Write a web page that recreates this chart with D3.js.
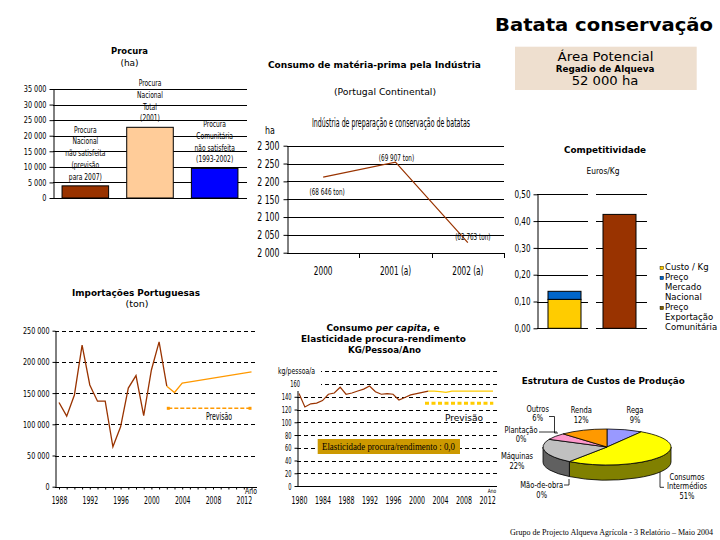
<!DOCTYPE html>
<html><head><meta charset="utf-8">
<script src="https://cdn.jsdelivr.net/npm/d3@7"></script>
<style>body{margin:0;background:#fff}svg{display:block}</style>
</head><body><svg id="c" width="720" height="540"></svg>
<script>
// ---------------- DATA ----------------
const procuraCategories = ["Nacional não satisfeita", "Nacional Total", "Comunitária não satisfeita"];
const procuraLabelLines = [
  ["Procura", "Nacional", "não satisfeita", "(previsão", "para 2007)"],
  ["Procura", "Nacional", "Total", "(2001)"],
  ["Procura", "Comunitária", "não satisfeita", "(1993-2002)"]
];
const procuraValues = [3900, 22700, 9500];
const procuraColors = ["#993300", "#FFCC99", "#0000FF"];
const procuraTicks = [0, 5000, 10000, 15000, 20000, 25000, 30000, 35000];

const consumoCategories = ["2000", "2001 (a)", "2002 (a)"];
const consumoValues = [2212, 2254, 2028];
const consumoTon = ["(68 646 ton)", "(69 907 ton)", "(62 763 ton)"];
const consumoTicks = [2000, 2050, 2100, 2150, 2200, 2250, 2300];

const compCategories = ["Mercado", "Exportação"];
const compCusto = [0.108, 0];
const compPrecoNacional = [0.030, 0];
const compPrecoExport = [0, 0.425];
const compLegend = [["Custo / Kg"], ["Preço", "Mercado", "Nacional"], ["Preço", "Exportação", "Comunitária"]];
const compColors = ["#FFCC00", "#0066CC", "#993300"];
const compLegendColors = ["#FFCC00", "#0066CC", "#7F6000"];
const compTicks = [0, 0.1, 0.2, 0.3, 0.4, 0.5];

const impYears = [1988,1989,1990,1991,1992,1993,1994,1995,1996,1997,1998,1999,2000,2001,2002];
const impValues = [135000,113000,147000,227000,163000,137000,137000,64000,96000,158000,178000,114000,187000,232000,161000];
const impForecastYears = [2002,2003,2004,2005,2006,2007,2008,2009,2010,2011,2012,2013];
const impForecast = [161000,151000,166000,168000,170000,172000,174000,176000,178000,180000,182000,184000];
const impTicks = [0, 50000, 100000, 150000, 200000, 250000];
const impXTicks = [1988, 1992, 1996, 2000, 2004, 2008, 2012];

const pcYears = [1980,1981,1982,1983,1984,1985,1986,1987,1988,1989,1990,1991,1992,1993,1994,1995,1996,1997,1998,1999,2000,2001,2002];
const pcValues = [145,124,129,130,134,144,146,155,144,146,149,152,157,148,144,145,144,135,139,143,145,147,149];
const pcForecastYears = [2002,2003,2004,2005,2006,2007,2008,2009,2010,2011,2012,2013];
const pcForecast = [149,149,148,147,149,149,149,149,149,149,149,149];
const pcTicks = [0, 20, 40, 60, 80, 100, 120, 140, 160];
const pcXTicks = [1980, 1984, 1988, 1992, 1996, 2000, 2004, 2008, 2012];
const elasticidade = "0,0";

const pieLabels = ["Rega", "Consumos Intermédios", "Mão-de-obra", "Máquinas", "Plantação", "Outros", "Renda"];
const pieValues = [9, 51, 0, 22, 0, 6, 12];
const pieColors = ["#9999FF", "#FFFF00", "#993366", "#C0C0C0", "#FFFFCC", "#FF99CC", "#FF9900"];
const pieSideColors = ["#5C5C99", "#808000", "#5C1F3D", "#606060", "#99997A", "#995C7A", "#995C00"];

// ---------------- HELPERS ----------------
const svg = d3.select("#c");
svg.append("rect").attr("width", 720).attr("height", 540).attr("fill", "#fff");
const NARROW = "'Liberation Sans Narrow','DejaVu Sans Condensed','Arial Narrow',sans-serif";
const SANS = "'DejaVu Sans',Verdana,sans-serif";
const SERIF = "'Liberation Serif','Times New Roman',serif";
const fmtSp = d => d3.format(",")(d).replace(/,/g, " ");

function narrowify(sel, f) {
  sel.each(function () {
    const L = this.getComputedTextLength();
    if (L > 0) d3.select(this).attr("textLength", L * f).attr("lengthAdjust", "spacingAndGlyphs");
  });
}
function txt(g, x, y, s, o = {}) {
  const t = g.append("text").attr("x", x).attr("y", y).text(s)
    .attr("font-family", o.family || SANS).attr("font-size", o.size || 9)
    .attr("text-anchor", o.anchor || "middle").attr("dominant-baseline", "central")
    .attr("fill", o.fill || "#000");
  if (o.bold) t.attr("font-weight", "bold");
  if (o.italic) t.attr("font-style", "italic");
  if (o.len) t.attr("textLength", o.len).attr("lengthAdjust", "spacingAndGlyphs");
  else if (o.nf) narrowify(t, o.nf);
  return t;
}
function styleAxis(g, family, size, nf) {
  g.attr("font-family", family).attr("font-size", size);
  g.selectAll("text").attr("fill", "#000");
  g.selectAll("line").attr("stroke", "#000");
  g.select(".domain").attr("stroke", "#000");
  if (nf) narrowify(g.selectAll("text"), nf);
}

// ---------------- MAIN TITLE ----------------
txt(svg, 604, 25, "Batata conservação", {bold: true, size: 17.5, len: 218});

// ---------------- PANEL 1: PROCURA ----------------
{
  const g = svg.append("g");
  txt(g, 129.5, 50.7, "Procura", {bold: true, size: 8.5, len: 37});
  txt(g, 129.5, 62.5, "(ha)", {size: 9});
  const y = d3.scaleLinear().domain([0, 35000]).range([198, 89]);
  const x = d3.scaleBand().domain(procuraCategories).range([53, 247]).paddingInner(0.28).paddingOuter(0.14);
  g.selectAll("line.grid").data(procuraTicks).join("line").attr("class", "grid")
    .attr("x1", 53).attr("x2", 247).attr("y1", d => Math.round(y(d)) + 0.5).attr("y2", d => Math.round(y(d)) + 0.5)
    .attr("stroke", "#000");
  const ax = g.append("g").attr("transform", "translate(53.5,0)")
    .call(d3.axisLeft(y).tickValues(procuraTicks).tickFormat(fmtSp).tickSize(4).tickSizeOuter(0).tickPadding(3));
  styleAxis(ax, NARROW, 8.5, 0.85);
  g.selectAll("rect.bar").data(procuraValues).join("rect").attr("class", "bar")
    .attr("x", (d, i) => x(procuraCategories[i])).attr("width", x.bandwidth())
    .attr("y", d => y(d)).attr("height", d => y(0) - y(d))
    .attr("fill", (d, i) => procuraColors[i]).attr("stroke", "#000").attr("stroke-width", 1);
  procuraLabelLines.forEach((lines, i) => {
    const cx = x(procuraCategories[i]) + x.bandwidth() / 2;
    const last = y(procuraValues[i]) - 9;
    lines.forEach((l, k) => txt(g, cx, last - (lines.length - 1 - k) * 11.8, l, {family: NARROW, size: 8.5, nf: 0.78}));
  });
}

// ---------------- PANEL 2: CONSUMO MATÉRIA-PRIMA ----------------
{
  const g = svg.append("g");
  txt(g, 374.4, 65, "Consumo de matéria-prima pela Indústria", {bold: true, size: 8.5, len: 213});
  txt(g, 385, 91.7, "(Portugal Continental)", {size: 9, len: 102});
  txt(g, 391, 122.7, "Indústria de preparação e conservação de batatas", {family: NARROW, size: 11.5, len: 158});
  txt(g, 270, 130, "ha", {family: NARROW, size: 11, nf: 0.8});
  const y = d3.scaleLinear().domain([2000, 2300]).range([252.7, 145.7]);
  const x = d3.scaleBand().domain(consumoCategories).range([287, 504]);
  g.selectAll("line.grid").data(consumoTicks).join("line").attr("class", "grid")
    .attr("x1", 287).attr("x2", 504).attr("y1", d => Math.round(y(d)) + 0.5).attr("y2", d => Math.round(y(d)) + 0.5)
    .attr("stroke", "#000");
  const ax = g.append("g").attr("transform", "translate(287.5,0)")
    .call(d3.axisLeft(y).tickValues(consumoTicks).tickFormat(fmtSp).tickSize(4).tickSizeOuter(0).tickPadding(4));
  styleAxis(ax, NARROW, 12, 0.72);
  const bx = consumoCategories.map(c => x(c) + x.bandwidth());
  g.selectAll("line.xt").data(bx).join("line").attr("class", "xt")
    .attr("x1", d => Math.round(d) + 0.5).attr("x2", d => Math.round(d) + 0.5)
    .attr("y1", Math.round(y(2000))).attr("y2", Math.round(y(2000)) + 5).attr("stroke", "#000");
  consumoCategories.forEach(c => txt(g, x(c) + x.bandwidth() / 2, 270.7, c, {family: NARROW, size: 12, nf: 0.68}));
  const line = d3.line().x((d, i) => x(consumoCategories[i]) + x.bandwidth() / 2).y(d => y(d));
  g.append("path").attr("d", line(consumoValues)).attr("fill", "none").attr("stroke", "#993300").attr("stroke-width", 1.2);
  const annOffsets = [[4, 14.6], [1, -4], [5, -5.4]];
  consumoTon.forEach((s, i) => {
    txt(g, x(consumoCategories[i]) + x.bandwidth() / 2 + annOffsets[i][0], y(consumoValues[i]) + annOffsets[i][1], s,
      {family: NARROW, size: 9, nf: 0.7});
  });
}

// ---------------- PANEL 3: ÁREA POTENCIAL + COMPETITIVIDADE ----------------
{
  const g = svg.append("g");
  g.append("rect").attr("x", 515).attr("y", 46.7).attr("width", 181.7).attr("height", 43.3).attr("fill", "#EEDFCF");
  txt(g, 605.5, 56, "Área Potencial", {size: 13, len: 96});
  txt(g, 605, 69.3, "Regadio de Alqueva", {bold: true, size: 8.5, len: 98.7});
  txt(g, 605, 80.7, "52 000 ha", {size: 13, len: 66.7});

  txt(g, 605, 150, "Competitividade", {bold: true, size: 8.5, len: 82});
  txt(g, 603, 171, "Euros/Kg", {family: NARROW, size: 8, len: 33});
  const y = d3.scaleLinear().domain([0, 0.5]).range([328.3, 194.3]);
  const x = d3.scaleBand().domain(compCategories).range([537, 647]).paddingInner(0.4).paddingOuter(0.2);
  const segs = [[537, 588], [596, 647]];
  compTicks.forEach(t => segs.forEach(s => {
    g.append("line").attr("x1", s[0]).attr("x2", s[1]).attr("y1", Math.round(y(t)) + 0.5).attr("y2", Math.round(y(t)) + 0.5)
      .attr("stroke", "#000");
  }));
  const ax = g.append("g").attr("transform", "translate(537.5,0)")
    .call(d3.axisLeft(y).tickValues(compTicks).tickFormat(d => d3.format(".2f")(d).replace(".", ",")).tickSize(4).tickSizeOuter(0).tickPadding(3));
  styleAxis(ax, NARROW, 10, 0.8);
  const rows = compCategories.map((c, i) => ({cat: c, custo: compCusto[i], nac: compPrecoNacional[i], exp: compPrecoExport[i]}));
  const stack = d3.stack().keys(["custo", "nac", "exp"])(rows);
  stack.forEach((layer, li) => {
    layer.forEach(d => {
      if (d[1] - d[0] <= 0) return;
      g.append("rect").attr("x", x(d.data.cat)).attr("width", x.bandwidth())
        .attr("y", y(d[1])).attr("height", y(d[0]) - y(d[1]))
        .attr("fill", compColors[li]).attr("stroke", "#000").attr("stroke-width", 1);
    });
  });
  const legY = [266.7, 276.7, 306.7];
  compLegend.forEach((lines, i) => {
    g.append("rect").attr("x", 660).attr("y", legY[i] - 0.5).attr("width", 3.5).attr("height", 3.5)
      .attr("fill", compLegendColors[i]).attr("stroke", "#000").attr("stroke-width", 0.4);
    lines.forEach((l, k) => txt(g, 665, legY[i] + k * 10.3, l, {size: 8.5, anchor: "start"}));
  });
}

// ---------------- PANEL 4: IMPORTAÇÕES ----------------
{
  const g = svg.append("g");
  txt(g, 136, 292.7, "Importações Portuguesas", {bold: true, size: 9, len: 128});
  txt(g, 137, 303.3, "(ton)", {size: 9.5});
  const y = d3.scaleLinear().domain([0, 250000]).range([486.7, 330.7]);
  const x = d3.scaleLinear().domain([1988, 2013]).range([59, 251.5]);
  g.selectAll("line.grid").data(impTicks.slice(1)).join("line").attr("class", "grid")
    .attr("x1", 55).attr("x2", 257).attr("y1", d => Math.round(y(d)) + 0.5).attr("y2", d => Math.round(y(d)) + 0.5)
    .attr("stroke", "#000").attr("stroke-dasharray", "4,3");
  const ax = g.append("g").attr("transform", "translate(55.5,0)")
    .call(d3.axisLeft(y).tickValues(impTicks).tickFormat(fmtSp).tickSize(3).tickSizeOuter(0).tickPadding(3));
  styleAxis(ax, NARROW, 9.5, 0.75);
  g.append("line").attr("x1", 55).attr("x2", 257).attr("y1", Math.round(y(0)) + 0.5).attr("y2", Math.round(y(0)) + 0.5).attr("stroke", "#000");
  const bx = g.append("g").attr("transform", `translate(0,${Math.round(y(0)) + 0.5})`)
    .call(d3.axisBottom(x).tickValues(d3.range(1988, 2014)).tickFormat(d => impXTicks.includes(d) ? d : "").tickSize(2).tickPadding(7));
  bx.select(".domain").remove();
  styleAxis(bx, NARROW, 10, 0.68);
  txt(g, 251, 491, "Ano", {family: NARROW, size: 8.5, nf: 0.8});
  const line = d3.line().x((d, i) => x(impYears[i])).y(d => y(d));
  g.append("path").attr("d", line(impValues)).attr("fill", "none").attr("stroke", "#993300").attr("stroke-width", 1.3);
  const fline = d3.line().x((d, i) => x(impForecastYears[i])).y(d => y(d));
  g.append("path").attr("d", fline(impForecast)).attr("fill", "none").attr("stroke", "#FF9900").attr("stroke-width", 1.3);
  g.append("line").attr("x1", 168.3).attr("x2", 250).attr("y1", 408.3).attr("y2", 408.3)
    .attr("stroke", "#FF9900").attr("stroke-width", 1.5).attr("stroke-dasharray", "4,2");
  [168.3, 250].forEach(px => g.append("rect").attr("x", px - 1.5).attr("y", 406.8).attr("width", 3).attr("height", 3).attr("fill", "#FF9900"));
  txt(g, 219, 416.7, "Previsão", {family: NARROW, size: 10, len: 26});
}

// ---------------- PANEL 5: CONSUMO PER CAPITA ----------------
{
  const g = svg.append("g");
  const t1 = g.append("text").attr("x", 383).attr("y", 328.3).attr("text-anchor", "middle").attr("dominant-baseline", "central")
    .attr("font-family", SANS).attr("font-size", 9).attr("font-weight", "bold")
    .attr("textLength", 113).attr("lengthAdjust", "spacingAndGlyphs");
  t1.append("tspan").text("Consumo ");
  t1.append("tspan").attr("font-style", "italic").text("per capita");
  t1.append("tspan").text(", e");
  txt(g, 383.5, 339.3, "Elasticidade procura-rendimento", {bold: true, size: 9, len: 165});
  txt(g, 384.5, 350.3, "KG/Pessoa/Ano", {bold: true, size: 8, len: 73});
  const y = d3.scaleLinear().domain([0, 180]).range([486, 371.3]);
  const x = d3.scaleLinear().domain([1980, 2013]).range([299, 493]);
  g.selectAll("line.grid").data(pcTicks.slice(1).concat([180])).join("line").attr("class", "grid")
    .attr("x1", 297).attr("x2", 497).attr("y1", d => Math.round(y(d)) + 0.5).attr("y2", d => Math.round(y(d)) + 0.5)
    .attr("stroke", "#000").attr("stroke-dasharray", "4,3");
  const ax = g.append("g").attr("transform", "translate(297.5,0)")
    .call(d3.axisLeft(y).tickValues(pcTicks.slice(0, -1)).tickSize(3).tickSizeOuter(0).tickPadding(3));
  styleAxis(ax, NARROW, 9.5, 0.6);
  g.append("line").attr("x1", 297).attr("x2", 497).attr("y1", Math.round(y(0)) + 0.5).attr("y2", Math.round(y(0)) + 0.5).attr("stroke", "#000");
  g.append("rect").attr("x", 277).attr("y", 365).attr("width", 44).attr("height", 26).attr("fill", "#fff");
  txt(g, 278, 371.3, "kg/pessoa/a", {family: NARROW, size: 9, anchor: "start", len: 37});
  txt(g, 300, 383.5, "160", {family: NARROW, size: 9.5, anchor: "end", nf: 0.6});
  const bx = g.append("g").attr("transform", `translate(0,${Math.round(y(0)) + 0.5})`)
    .call(d3.axisBottom(x).tickValues(pcXTicks).tickFormat(d3.format("d")).tickSize(0).tickPadding(10));
  bx.select(".domain").remove();
  styleAxis(bx, NARROW, 10, 0.7);
  txt(g, 492, 490.5, "Ano", {family: NARROW, size: 6, nf: 0.8});
  const line = d3.line().x((d, i) => x(pcYears[i])).y(d => y(d));
  g.append("path").attr("d", line(pcValues)).attr("fill", "none").attr("stroke", "#993300").attr("stroke-width", 1.2);
  const fline = d3.line().x((d, i) => x(pcForecastYears[i])).y(d => y(d));
  g.append("path").attr("d", fline(pcForecast)).attr("fill", "none").attr("stroke", "#FFCC00").attr("stroke-width", 1.3);
  g.append("line").attr("x1", 425).attr("x2", 493.3).attr("y1", 403.3).attr("y2", 403.3)
    .attr("stroke", "#FFCC00").attr("stroke-width", 3).attr("stroke-dasharray", "4,2.5");
  txt(g, 464, 417.3, "Previsão", {size: 9.5, len: 38});
  g.append("rect").attr("x", 317.7).attr("y", 439).attr("width", 142.3).attr("height", 15).attr("fill", "#CC9900");
  txt(g, 388.5, 446.7, "Elasticidade procura/rendimento : " + elasticidade, {family: SERIF, size: 10.5, len: 133});
}

// ---------------- PANEL 6: ESTRUTURA DE CUSTOS ----------------
{
  const g = svg.append("g");
  txt(g, 603.3, 381, "Estrutura de Custos de Produção", {bold: true, size: 8.5, len: 163});
  const cx = 607, cy = 447, rx = 64, ry = 18, depth = 15;
  const arcs = d3.pie().sort(null).value(d => d)(pieValues);
  const P = (a, dy = 0) => [cx + rx * Math.sin(a), cy - ry * Math.cos(a) + dy];
  arcs.forEach((a, i) => {
    const s = Math.max(a.startAngle, Math.PI / 2), e = Math.min(a.endAngle, 3 * Math.PI / 2);
    if (e <= s) return;
    const p0 = P(s), p1 = P(e), p2 = P(e, depth), p3 = P(s, depth);
    const large = (e - s) > Math.PI ? 1 : 0;
    const d = `M${p0}A${rx},${ry} 0 ${large} 1 ${p1}L${p2}A${rx},${ry} 0 ${large} 0 ${p3}Z`;
    g.append("path").attr("d", d).attr("fill", pieSideColors[i]).attr("stroke", "#000").attr("stroke-width", 0.8);
  });
  arcs.forEach((a, i) => {
    if (a.endAngle - a.startAngle <= 0) return;
    const p0 = P(a.startAngle), p1 = P(a.endAngle);
    const large = (a.endAngle - a.startAngle) > Math.PI ? 1 : 0;
    const d = `M${cx},${cy}L${p0}A${rx},${ry} 0 ${large} 1 ${p1}Z`;
    g.append("path").attr("d", d).attr("fill", pieColors[i]).attr("stroke", "#000").attr("stroke-width", 0.8);
  });
  const labelLayout = {
    "Rega": {x: 635, y: 410, lines: ["Rega"]},
    "Consumos Intermédios": {x: 687, y: 476.7, lines: ["Consumos", "Intermédios"]},
    "Mão-de-obra": {x: 541.7, y: 485, lines: ["Mão-de-obra"]},
    "Máquinas": {x: 517, y: 456, lines: ["Máquinas"]},
    "Plantação": {x: 521, y: 429.5, lines: ["Plantação"]},
    "Outros": {x: 537.7, y: 408.5, lines: ["Outros"]},
    "Renda": {x: 581.3, y: 410, lines: ["Renda"]}
  };
  pieLabels.forEach((name, i) => {
    const L = labelLayout[name];
    const lines = L.lines.concat([pieValues[i] + "%"]);
    lines.forEach((l, k) => txt(g, L.x, L.y + k * 9.6, l, {family: NARROW, size: 8.5, nf: 0.88}));
  });
  const leaders = [
    [[549, 416.5], [554.5, 416.5], [554.5, 433], [558, 433]],
    [[539, 432], [557, 432]],
    [[564, 485], [569, 485], [569, 479]],
    [[660, 472], [660, 487.3], [664, 487.3]]
  ];
  leaders.forEach(pts => g.append("polyline").attr("points", pts.join(" ")).attr("fill", "none").attr("stroke", "#000").attr("stroke-width", 0.8));
}

// ---------------- FOOTER ----------------
txt(svg, 611.5, 532.5, "Grupo de Projecto Alqueva Agrícola - 3  Relatório – Maio 2004", {family: SERIF, size: 7.5, len: 203});
</script>
</body></html>
